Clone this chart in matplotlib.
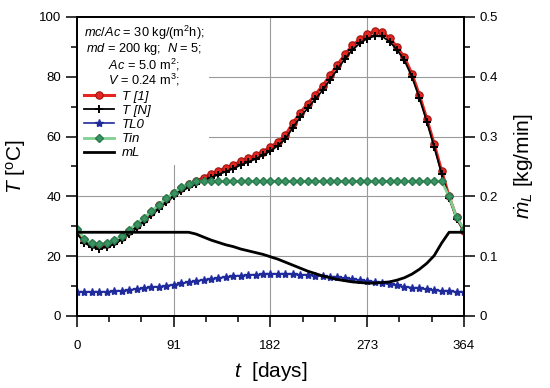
import matplotlib
matplotlib.use("Agg")
import matplotlib.pyplot as plt
from matplotlib.lines import Line2D
from matplotlib.ticker import MultipleLocator

plt.rcParams['font.family'] = 'Liberation Sans'
plt.rcParams['mathtext.fontset'] = 'custom'
plt.rcParams['mathtext.rm'] = 'Liberation Sans'
plt.rcParams['mathtext.it'] = 'Liberation Sans:italic'

# weekly samples over one year
days = list(range(0, 365, 7))

t_1 = [28.0, 25.5, 24.0, 23.6, 24.0, 25.0, 26.5, 28.5, 30.5, 32.5, 34.8, 37.0, 39.0, 41.0,
       42.8, 44.0, 45.0, 46.3, 47.5, 48.5, 49.5, 50.5, 51.7, 52.7, 53.7, 55.0, 56.5, 58.3,
       60.5, 64.5, 68.0, 71.0, 74.0, 77.0, 80.5, 84.0, 87.5, 90.5, 92.5, 94.2, 95.2, 95.0,
       93.0, 90.0, 86.5, 81.0, 74.0, 66.0, 57.5, 48.5, 40.0, 33.0, 28.5]

t_n = [27.5, 24.5, 23.0, 22.5, 23.0, 24.0, 25.5, 27.3, 29.3, 31.5, 33.7, 35.8, 38.0, 40.0,
       41.7, 43.0, 44.0, 45.2, 46.3, 47.3, 48.3, 49.3, 50.5, 51.5, 52.5, 53.8, 55.2, 57.0,
       59.2, 63.0, 66.5, 69.5, 72.5, 75.5, 79.0, 82.5, 86.0, 89.0, 91.2, 92.8, 93.6, 93.5,
       91.8, 89.0, 85.5, 80.0, 73.0, 65.0, 56.5, 47.5, 39.5, 32.5, 28.3]

t_l0 = [8.1, 8.0, 8.0, 8.0, 8.1, 8.2, 8.4, 8.7, 9.0, 9.3, 9.6, 9.8, 10.1, 10.5,
        10.9, 11.3, 11.7, 12.1, 12.4, 12.7, 13.0, 13.3, 13.5, 13.7, 13.8, 13.9, 14.0, 14.0,
        14.0, 13.9, 13.8, 13.7, 13.5, 13.3, 13.1, 12.9, 12.6, 12.3, 12.0, 11.7, 11.4, 11.0,
        10.6, 10.2, 9.8, 9.5, 9.2, 8.9, 8.6, 8.4, 8.2, 8.1, 8.0]

t_in = [29.0, 25.8, 24.3, 24.0, 24.3, 25.3, 26.8, 28.8, 30.8, 32.8, 35.0, 37.2, 39.3, 41.3,
        43.0, 44.3, 45.0, 45.0, 45.0, 45.0, 45.0, 45.0, 45.0, 45.0, 45.0, 45.0, 45.0, 45.0,
        45.0, 45.0, 45.0, 45.0, 45.0, 45.0, 45.0, 45.0, 45.0, 45.0, 45.0, 45.0, 45.0, 45.0,
        45.0, 45.0, 45.0, 45.0, 45.0, 45.0, 45.0, 45.0, 40.0, 33.0, 29.0]

m_l = [0.14, 0.14, 0.14, 0.14, 0.14, 0.14, 0.14, 0.14, 0.14, 0.14, 0.14, 0.14, 0.14, 0.14,
       0.14, 0.14, 0.137, 0.132, 0.127, 0.123, 0.119, 0.116, 0.112, 0.109, 0.106, 0.103, 0.099, 0.095,
       0.090, 0.085, 0.080, 0.075, 0.071, 0.067, 0.064, 0.061, 0.059, 0.057, 0.056, 0.055, 0.055, 0.056,
       0.057, 0.060, 0.064, 0.070, 0.078, 0.088, 0.101, 0.122, 0.14, 0.14, 0.14]

x_ticks = [0, 91, 182, 273, 364]

fig = plt.figure(figsize=(5.5, 3.88), dpi=100)
ax = fig.add_axes([0.14, 0.1856, 0.7036, 0.7706])
ax2 = ax.twinx()

ax.grid(True, color="#9a9a9a", lw=0.8, zorder=0)
ax.set_axisbelow(True)

red, = ax.plot(days, t_1, "-o", color="#e52620", mec="#9c1410", ms=5.3, mew=0.8, lw=2.2, zorder=3)
blk, = ax.plot(days, t_n, "-+", color="black", ms=6, mew=1.4, lw=1.3, zorder=4)
blue, = ax.plot(days, t_l0, "-*", color="#1f2a9c", ms=6, lw=1.2, zorder=3)
green, = ax.plot(days, t_in, "-D", color="#7fcf8f", mfc="#3a9463", mec="#2b7a4e",
                 ms=4.2, lw=2, zorder=5)
ax2.plot(days, m_l, color="black", lw=2)

ax.set_xlim(0, 364)
ax.set_ylim(0, 100)
ax2.set_ylim(0, 0.5)
ax.set_xticks(x_ticks)
ax.xaxis.set_minor_locator(MultipleLocator(91 / 3))
ax.yaxis.set_major_locator(MultipleLocator(20))
ax.yaxis.set_minor_locator(MultipleLocator(10))
ax2.set_yticks([0, 0.1, 0.2, 0.3, 0.4, 0.5])
ax2.set_yticklabels(["0", "0.1", "0.2", "0.3", "0.4", "0.5"])
ax2.yaxis.set_minor_locator(MultipleLocator(0.05))

for a in (ax, ax2):
    a.tick_params(which="major", direction="out", length=8, width=1.1, labelsize=9.5)
    a.tick_params(which="minor", direction="out", length=4.5, width=1.1)
    for s in a.spines.values():
        s.set_linewidth(1.3)
ax.tick_params(axis="x", pad=9)

ax.set_xlabel(r"$t$  [days]", fontsize=15, labelpad=6)
ax.set_ylabel(r"$T$ [$^{\rm o}$C]", fontsize=15, labelpad=8)
ax2.set_ylabel(r"$\dot{m}_L$ [kg/min]", fontsize=15, labelpad=10)

handles = [red, blk, blue, green, Line2D([], [], color="black", lw=2)]
labels = ["T [1]", "T [N]", "TL0", "Tin", "mL"]
title = ("$mc/Ac$ = 30 kg/(m$^2$h);\n"
         "$md$ = 200 kg;  $N$ = 5;\n"
         "$Ac$ = 5.0 m$^2$;\n"
         "$V$ = 0.24 m$^3$;")
leg = ax2.legend(handles, labels, title=title, loc="upper left",
                 prop={"size": 9.5, "style": "italic"},
                 title_fontsize=9.2, frameon=True, facecolor="white", edgecolor="none",
                 framealpha=1, fancybox=False, borderaxespad=0.1, handlelength=2.3,
                 labelspacing=0.15, handletextpad=0.6, borderpad=0.4, alignment="left")
leg.get_title().set_multialignment("center")
leg.get_title().set_linespacing(0.95)
leg.get_frame().set_linewidth(0)

fig.savefig("out.png", dpi=100)
